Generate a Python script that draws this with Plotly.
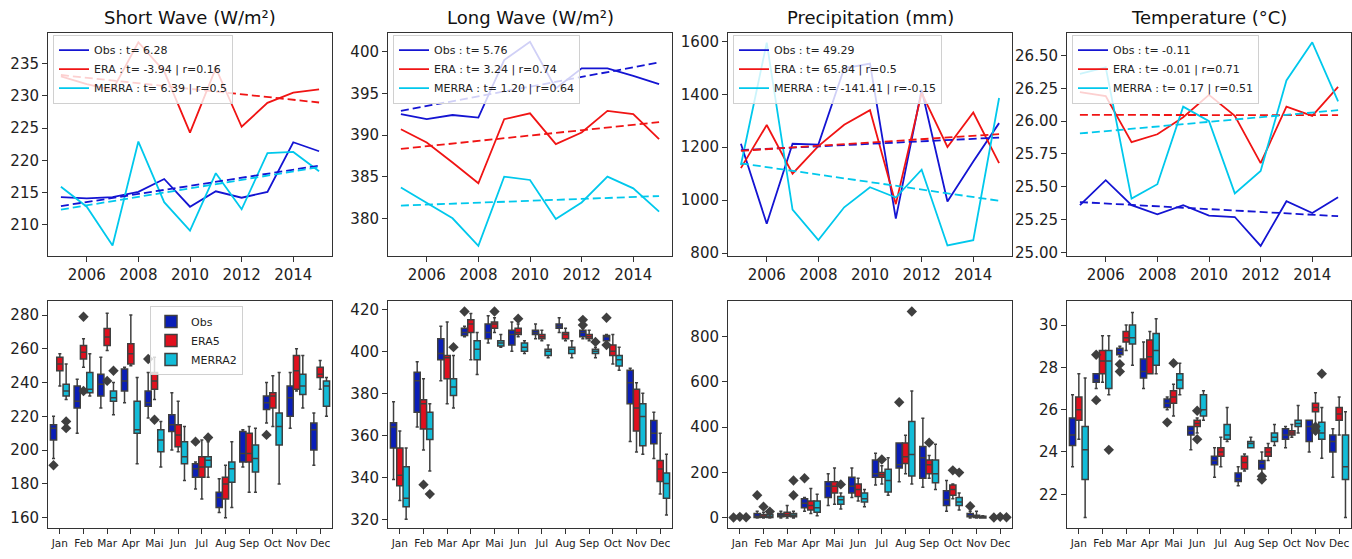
import numpy as np
import plotly.graph_objects as go

# ---------------- data ----------------
YEARS = list(range(2005, 2016))
MONTHS = ["Jan", "Feb", "Mar", "Apr", "Mai", "Jun", "Jul", "Aug", "Sep", "Oct", "Nov", "Dec"]
TITLES = ["Short Wave (W/m²)", "Long Wave (W/m²)", "Precipitation (mm)", "Temperature (°C)"]
SOURCES = ["Obs", "ERA", "MERRA"]
BOX_NAMES = ["Obs", "ERA5", "MERRA2"]

# annual series (top row)
SW_OBS = [214.3, 214.1, 214.3, 215.1, 217.1, 212.8, 215.2, 214.2, 215.1, 222.8, 221.4]
SW_ERA = [233.0, 231.8, 230.9, 238.3, 233.8, 224.3, 234.3, 225.2, 228.9, 230.5, 231.0]
SW_MERRA = [215.9, 212.8, 206.8, 222.9, 213.5, 209.1, 218.0, 212.4, 221.1, 221.3, 218.3]

LW_OBS = [392.5, 391.9, 392.4, 392.1, 399.0, 401.2, 395.6, 398.0, 398.0, 397.1, 396.1]
LW_ERA = [390.7, 389.1, 386.7, 384.2, 391.9, 392.6, 388.9, 390.3, 392.9, 392.5, 389.5]
LW_MERRA = [383.7, 381.9, 380.0, 376.7, 385.0, 384.6, 379.9, 381.9, 385.0, 383.6, 380.8]

PR_OBS = [1213, 911, 1213, 1210, 1498, 1516, 930, 1417, 995, 1146, 1291]
PR_ERA = [1121, 1284, 1100, 1204, 1285, 1340, 985, 1405, 1201, 1331, 1140]
PR_MERRA = [1133, 1595, 964, 849, 973, 1049, 1010, 1115, 829, 849, 1386]

TA_OBS = [25.36, 25.55, 25.36, 25.29, 25.36, 25.28, 25.27, 25.05, 25.39, 25.30, 25.42]
TA_ERA = [26.22, 26.19, 25.84, 25.90, 26.03, 26.20, 26.04, 25.68, 26.11, 26.04, 26.26]
TA_MERRA = [26.36, 26.41, 25.41, 25.52, 26.11, 26.00, 25.45, 25.62, 26.31, 26.60, 26.15]

SW_LABELS = ["Obs : t= 6.28", "ERA : t= -3.94 | r=0.16", "MERRA : t= 6.39 | r=0.5"]
LW_LABELS = ["Obs : t= 5.76", "ERA : t= 3.24 | r=0.74", "MERRA : t= 1.20 | r=0.64"]
PR_LABELS = ["Obs : t= 49.29", "ERA : t= 65.84 | r=0.5", "MERRA : t= -141.41 | r=-0.15"]
TA_LABELS = ["Obs : t= -0.11", "ERA : t= -0.01 | r=0.71", "MERRA : t= 0.17 | r=0.51"]

# monthly box statistics (bottom row): (lower whisker, q1, median, q3, upper whisker)
SW_BOX_OBS = [(195, 206, 213, 215, 220), (210, 225, 229, 238, 242), (225, 232, 239, 245, 255),
              (228, 235, 241, 248, 249), (219, 226, 228, 235, 246), (200, 211, 215, 221, 234),
              (177, 184, 189, 192, 193), (163, 166, 172, 175, 183), (190, 193, 198, 211, 212),
              (216, 224, 228, 232, 240), (213, 220, 231, 238, 246), (191, 200, 212, 216, 222)]
SW_BOX_ERA = [(238, 247, 251, 255, 257), (249, 254, 258, 262, 266), (259, 262, 267, 272, 281),
              (250, 251, 257, 263, 280), (230, 236, 241, 246, 255), (199, 202, 209, 215, 229),
              (171, 184, 190, 196, 206), (160, 171, 180, 184, 191), (175, 193, 198, 210, 214),
              (214, 225, 232, 234, 244), (235, 236, 247, 256, 260), (236, 243, 245, 249, 253)]
SW_BOX_MERRA = [(230, 232, 235, 239, 251), (232, 234, 236, 246, 257), (221, 229, 231, 235, 240),
                (192, 210, 212, 229, 243), (190, 199, 206, 212, 217), (182, 192, 196, 205, 214),
                (184, 190, 194, 196, 205), (166, 181, 189, 193, 205), (175, 187, 195, 203, 213),
                (180, 203, 214, 222, 246), (225, 233, 238, 245, 256), (220, 226, 238, 241, 243)]
SW_OUTLIERS = [(0, 0, 191), (0, 4, 254), (0, 6, 205), (0, 9, 209),
               (1, 1, 279), (1, 1, 235), (1, 2, 241), (1, 4, 218),
               (2, 0, 217), (2, 0, 213), (2, 2, 247), (2, 6, 207.5)]

LW_BOX_OBS = [(339, 354, 364, 366, 376), (364, 371, 386, 390, 395), (386, 396, 399, 406, 412),
              (407, 407.5, 409, 411, 412), (404, 406, 409, 413, 417), (400, 403, 408, 410, 414),
              (406, 408, 409, 410, 413), (409, 411, 412, 413, 416), (406, 407, 409, 410, 411),
              (404, 405, 407, 407.5, 408), (357, 375, 385, 391, 392), (349, 356, 361, 367, 371)]
LW_BOX_ERA = [(329, 336, 341, 354, 362), (353, 363, 375, 377, 387), (375, 387, 397, 398, 414),
              (396, 409, 413, 415, 418), (409, 411, 413, 414, 416), (407, 408, 409, 411, 413),
              (405, 406, 407, 408, 410), (405, 406, 408, 409, 411), (405, 406, 407, 408, 410),
              (394, 398, 400, 403, 408), (352, 362, 373, 382, 385), (332, 338, 344, 348, 361)]
LW_BOX_MERRA = [(320, 326, 330, 345, 354), (343, 358, 363, 371, 375), (373, 379, 383, 387, 398),
                (389, 396, 401, 405, 409), (402, 402.5, 404, 405, 408), (399, 400, 402, 404, 405),
                (397, 398, 400, 401, 403), (397, 399, 401, 402, 405), (397, 399, 400, 401, 402),
                (391, 393, 396, 398, 402), (351, 355, 369, 375, 380), (322, 330, 337, 342, 351)]
LW_OUTLIERS = [(0, 3, 419), (0, 8, 415), (0, 8, 412.5), (0, 9, 416), (0, 9, 403),
               (1, 1, 336.5), (1, 4, 419), (1, 5, 415.5),
               (2, 1, 332), (2, 2, 402), (2, 8, 404.5)]

PR_BOX_OBS = [(0, 0, 0, 0.5, 1), (0, 2, 8, 20, 30), (0, 5, 12, 20, 30), (30, 45, 65, 85, 90),
              (55, 90, 140, 160, 195), (90, 110, 140, 180, 220), (145, 180, 195, 255, 285),
              (160, 220, 235, 330, 330), (135, 175, 265, 315, 440), (30, 55, 80, 120, 165),
              (0, 5, 10, 20, 30), (0, 0, 0, 0.5, 1)]
PR_BOX_ERA = [(0, 0, 1, 2, 3), (0, 3, 8, 15, 25), (0, 8, 15, 25, 55), (20, 35, 55, 75, 130),
              (60, 110, 140, 160, 220), (75, 95, 125, 150, 175), (150, 180, 190, 200, 230),
              (195, 240, 270, 330, 365), (175, 195, 235, 255, 275), (85, 100, 125, 145, 150),
              (0, 2, 8, 12, 30), (0, 0, 1, 2, 3)]
PR_BOX_MERRA = [(0, 0, 0, 1, 2), (0, 2, 5, 15, 20), (0, 5, 12, 20, 30), (10, 25, 45, 75, 105),
                (40, 60, 80, 95, 110), (50, 70, 85, 110, 125), (100, 115, 165, 215, 265),
                (150, 185, 280, 425, 560), (125, 155, 195, 255, 325), (35, 55, 70, 90, 110),
                (0, 0, 3, 8, 10), (0, 0, 0, 1, 2)]
PR_OUTLIERS = [(0, 0, 2), (1, 0, 5), (2, 0, 3), (0, 11, 2), (1, 11, 5), (2, 11, 3),
               (0, 1, 100), (1, 1, 50), (2, 1, 28), (2, 2, 165), (2, 2, 100), (0, 3, 175),
               (2, 4, 148), (1, 6, 258), (0, 7, 510), (2, 7, 910), (1, 8, 332),
               (1, 9, 210), (2, 9, 200), (0, 10, 52)]

TA_BOX_OBS = [(23.3, 24.3, 24.8, 25.6, 26.7), (27.0, 27.3, 27.4, 27.7, 27.7), (28.5, 28.6, 28.75, 28.9, 29.0),
              (27.0, 27.5, 27.8, 28.4, 29.2), (26.0, 26.1, 26.3, 26.5, 26.6), (24.1, 24.8, 25.0, 25.2, 25.2),
              (22.8, 23.4, 23.6, 23.8, 24.2), (22.4, 22.6, 22.75, 23.0, 23.3), (22.9, 23.2, 23.45, 23.6, 24.0),
              (24.2, 24.6, 24.8, 25.1, 25.2), (24.0, 24.5, 25.2, 25.5, 25.5), (22.8, 24.0, 24.5, 24.8, 25.1)]
TA_BOX_ERA = [(24.6, 25.5, 26.0, 26.6, 27.7), (27.3, 27.7, 28.3, 28.8, 29.5), (28.8, 29.2, 29.4, 29.7, 30.0),
              (27.7, 27.7, 28.5, 29.3, 29.7), (25.7, 26.3, 26.6, 26.9, 27.2), (24.9, 25.2, 25.35, 25.5, 25.6),
              (23.3, 23.8, 24.0, 24.2, 24.7), (23.1, 23.2, 23.5, 23.8, 23.9), (23.6, 23.8, 24.0, 24.2, 24.4),
              (24.7, 24.8, 24.9, 25.0, 25.3), (25.2, 25.9, 26.1, 26.3, 26.8), (24.8, 25.5, 25.8, 26.1, 26.6)]
TA_BOX_MERRA = [(20.9, 22.7, 24.1, 25.2, 27.5), (26.7, 27.0, 28.3, 28.8, 29.5), (28.1, 29.1, 29.4, 30.0, 30.6),
                (27.7, 28.1, 28.8, 29.6, 30.3), (26.7, 27.0, 27.4, 27.7, 28.2), (25.5, 25.7, 26.0, 26.7, 26.9),
                (24.5, 24.6, 24.8, 25.3, 26.1), (24.2, 24.2, 24.4, 24.5, 24.7), (24.3, 24.5, 24.7, 24.9, 25.3),
                (24.9, 25.2, 25.35, 25.5, 26.2), (23.7, 24.6, 24.9, 25.4, 26.1), (20.9, 22.7, 23.3, 24.8, 25.9)]
TA_OUTLIERS = [(0, 1, 28.6), (0, 1, 26.45), (0, 2, 28.15), (0, 2, 27.8), (0, 4, 25.4),
               (0, 8, 22.7), (0, 8, 22.85), (1, 4, 28.2), (1, 5, 25.95), (1, 5, 24.6),
               (1, 10, 25.0), (1, 10, 25.2), (2, 1, 24.1), (2, 10, 27.7)]

# ---------------- styling ----------------
LINE_COLORS = ["#1414d2", "#f01414", "#00c8ec"]
BOX_COLORS = ["#0a1eb8", "#e0101e", "#12bcd8"]
EDGE = "#3f3f3f"
FONT = "DejaVu Sans"
W, H = 1352, 559

X_PX = [(48, 332), (388, 672), (728, 1012), (1067, 1351)]
TOP_PX = (33, 259)
BOT_PX = (305, 535)

TOP_RANGES = [[205.2, 239.8], [375.5, 402.3], [790, 1633], [24.975, 26.674]]
TOP_TICKS = [[210, 215, 220, 225, 230, 235], [380, 385, 390, 395, 400],
             [800, 1000, 1200, 1400, 1600], [25.0, 25.25, 25.5, 25.75, 26.0, 26.25, 26.5]]
BOT_RANGES = [[153.7, 288.2], [315.7, 423.9], [-45.5, 955.5], [20.39, 31.13]]
BOT_TICKS = [[160, 180, 200, 220, 240, 260, 280], [320, 340, 360, 380, 400, 420],
             [0, 200, 400, 600, 800], [22, 24, 26, 28, 30]]

TOP_SERIES = [[SW_OBS, SW_ERA, SW_MERRA], [LW_OBS, LW_ERA, LW_MERRA],
              [PR_OBS, PR_ERA, PR_MERRA], [TA_OBS, TA_ERA, TA_MERRA]]
TOP_LABELS = [SW_LABELS, LW_LABELS, PR_LABELS, TA_LABELS]
BOT_BOXES = [[SW_BOX_OBS, SW_BOX_ERA, SW_BOX_MERRA], [LW_BOX_OBS, LW_BOX_ERA, LW_BOX_MERRA],
             [PR_BOX_OBS, PR_BOX_ERA, PR_BOX_MERRA], [TA_BOX_OBS, TA_BOX_ERA, TA_BOX_MERRA]]
BOT_OUT = [SW_OUTLIERS, LW_OUTLIERS, PR_OUTLIERS, TA_OUTLIERS]

fig = go.Figure()


def ax_id(n):
    return "" if n == 1 else str(n)


def xdom(i):
    return [X_PX[i][0] / W, X_PX[i][1] / W]


def ydom(py):
    return [1 - py[1] / H, 1 - py[0] / H]


axis_common = dict(showline=True, mirror=True, linecolor="#333333", linewidth=1,
                   ticks="outside", ticklen=5, tickwidth=1, tickcolor="#333333",
                   showgrid=False, zeroline=False,
                   tickfont=dict(family=FONT, size=15, color="#222222"))

yrs = np.array(YEARS, dtype=float)
layout_axes = {}
for i in range(4):
    n = i + 1
    xa, ya = "x" + ax_id(n), "y" + ax_id(n)
    leg = "legend" + ax_id(n)
    for s in range(3):
        vals = np.array(TOP_SERIES[i][s], dtype=float)
        fig.add_trace(go.Scatter(x=YEARS, y=vals, mode="lines", name=TOP_LABELS[i][s],
                                 line=dict(color=LINE_COLORS[s], width=1.8),
                                 xaxis=xa, yaxis=ya, legend=leg, showlegend=True))
    for s in range(3):
        vals = np.array(TOP_SERIES[i][s], dtype=float)
        slope, icpt = np.polyfit(yrs, vals, 1)
        fig.add_trace(go.Scatter(x=YEARS, y=slope * yrs + icpt, mode="lines",
                                 line=dict(color=LINE_COLORS[s], width=1.8, dash="8px,4px"),
                                 xaxis=xa, yaxis=ya, showlegend=False, hoverinfo="skip"))
    layout_axes["xaxis" + ax_id(n)] = dict(axis_common, domain=xdom(i), anchor=ya,
                                           range=[2004.5, 2015.5], tickvals=[2006, 2008, 2010, 2012, 2014])
    ytf = dict(axis_common, domain=ydom(TOP_PX), anchor=xa, range=TOP_RANGES[i], tickvals=TOP_TICKS[i])
    if i == 3:
        ytf["tickformat"] = ".2f"
    layout_axes["yaxis" + ax_id(n)] = ytf
    layout_axes[leg] = dict(x=(X_PX[i][0] + 5) / W, y=1 - (TOP_PX[0] + 2) / H, xanchor="left", yanchor="top",
                            xref="paper", yref="paper",
                            bgcolor="rgba(255,255,255,0.8)", bordercolor="#d0d0d0", borderwidth=1,
                            font=dict(family=FONT, size=11, color="#222222"), tracegroupgap=0,
                            itemwidth=30)

# bottom row
HUE_W = 0.8 / 3
OFFSETS = [-HUE_W, 0.0, HUE_W]
BOX_W = HUE_W * 0.98
months_idx = np.arange(12)
for i in range(4):
    n = i + 5
    xa, ya = "x" + ax_id(n), "y" + ax_id(n)
    for s in range(3):
        stats = BOT_BOXES[i][s]
        fig.add_trace(go.Box(x=list(months_idx + OFFSETS[s]),
                             lowerfence=[b[0] for b in stats], q1=[b[1] for b in stats],
                             median=[b[2] for b in stats], q3=[b[3] for b in stats],
                             upperfence=[b[4] for b in stats],
                             width=BOX_W, whiskerwidth=0.5, boxpoints=False,
                             fillcolor=BOX_COLORS[s], line=dict(color=EDGE, width=1.5),
                             name=BOX_NAMES[s], xaxis=xa, yaxis=ya,
                             showlegend=(i == 0), legend="legend5"))
    outs = BOT_OUT[i]
    fig.add_trace(go.Scatter(x=[m + OFFSETS[s] for s, m, v in outs], y=[v for s, m, v in outs],
                             mode="markers", marker=dict(symbol="diamond", size=8, color=EDGE),
                             xaxis=xa, yaxis=ya, showlegend=False, hoverinfo="skip"))
    layout_axes["xaxis" + ax_id(n)] = dict(axis_common, domain=xdom(i), anchor=ya, range=[-0.5, 11.5],
                                           tickvals=list(months_idx), ticktext=MONTHS,
                                           tickfont=dict(family=FONT, size=10.5, color="#222222"))
    layout_axes["yaxis" + ax_id(n)] = dict(axis_common, domain=ydom(BOT_PX), anchor=xa,
                                           range=BOT_RANGES[i], tickvals=BOT_TICKS[i])

layout_axes["legend5"] = dict(x=150 / W, y=1 - 310 / H, xanchor="left", yanchor="top",
                              xref="paper", yref="paper",
                              bgcolor="rgba(255,255,255,0.8)", bordercolor="#d0d0d0", borderwidth=1,
                              font=dict(family=FONT, size=11, color="#222222"), tracegroupgap=0)

annotations = []
for i in range(4):
    annotations.append(dict(text=TITLES[i], x=(X_PX[i][0] + X_PX[i][1]) / 2 / W, y=1 - 18 / H,
                            xref="paper", yref="paper", xanchor="center", yanchor="middle",
                            showarrow=False, font=dict(family=FONT, size=18, color="#111111")))

fig.update_layout(width=W, height=H, margin=dict(l=0, r=0, t=0, b=0),
                  paper_bgcolor="white", plot_bgcolor="white", boxmode="overlay",
                  annotations=annotations, font=dict(family=FONT), **layout_axes)

fig.write_html("out.html", config={"displayModeBar": False},
               post_script="document.body.style.margin='0';document.body.style.overflow='hidden';")
